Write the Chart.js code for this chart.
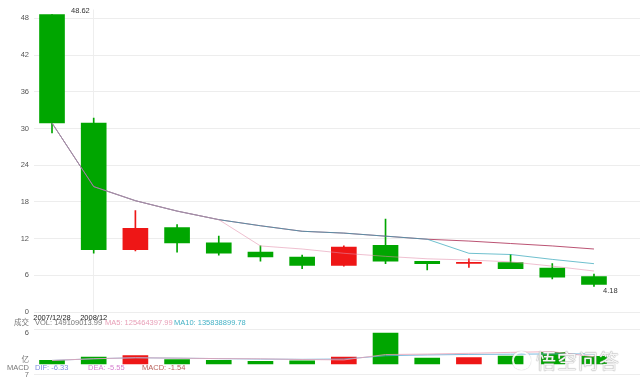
<!DOCTYPE html>
<html>
<head>
<meta charset="utf-8">
<script src="https://cdn.jsdelivr.net/npm/chart.js@4.4.0/dist/chart.umd.min.js"></script>
<style>
  body { margin: 0; background: #fff; width: 640px; height: 387px; overflow: hidden; position: relative;
         font-family: "Liberation Sans", "Noto Sans CJK SC", sans-serif; }
  #main { position: absolute; left: 0; top: 0; width: 640px; height: 322px; }
  #vol { position: absolute; left: 0; top: 320px; width: 640px; height: 67px; }
  .lbl { position: absolute; font-size: 7.5px; line-height: 8px; white-space: nowrap; z-index: 2; }
  .r { text-align: right; width: 40px; }
  .wm { position: absolute; left: 512px; top: 349px; z-index: 3; font-family: "Noto Sans CJK SC", sans-serif;
        font-size: 20px; line-height: 24px; color: rgba(255,255,255,0.9); letter-spacing: 1px;
        text-shadow: 0 0 1px #999, 0 0 1px #999; }
  .wm span { display: inline-block; width: 15px; height: 15px; border-radius: 50%; border: 2px solid rgba(255,255,255,0.9);
             box-shadow: 0 0 1px #999; vertical-align: -1px; margin-right: 5px; }
</style>
</head>
<body>
<canvas id="main" width="640" height="322"></canvas>
<canvas id="vol" width="640" height="67"></canvas>

<div class="lbl r" style="left:-11px; top:319px; color:#777;">成交</div>
<div class="lbl" style="left:35px; top:319px; color:#777;">VOL: 149109013.99</div>
<div class="lbl" style="left:105px; top:319px; color:#e8a0b8;">MA5: 125464397.99</div>
<div class="lbl" style="left:174px; top:319px; color:#45b2c6;">MA10: 135838899.78</div>
<div class="lbl r" style="left:-11px; top:356px; color:#777;">亿</div>
<div class="lbl r" style="left:-11px; top:364px; color:#777;">MACD</div>
<div class="lbl" style="left:35px; top:364px; color:#7d8de0;">DIF: -6.33</div>
<div class="lbl" style="left:88px; top:364px; color:#d67fd0;">DEA: -5.55</div>
<div class="lbl" style="left:142px; top:364px; color:#b8605a;">MACD: -1.54</div>
<div class="lbl r" style="left:-11px; top:371px; color:#777;">7</div>
<div class="wm"><span></span>悟空问答</div>

<script>
// yearly candles, 2007 - 2020
const years = ['2007/12/28', '2008/12', '2009/12', '2010/12', '2011/12', '2012/12', '2013/12',
               '2014/12', '2015/12', '2016/12', '2017/12', '2018/12', '2019/12', '2020/12'];
const openP  = [48.62, 30.9, 10.2, 13.8, 11.3, 9.8, 9.0, 7.6, 10.9, 8.3, 7.95, 8.1, 7.2, 5.8];
const closeP = [30.9, 10.2, 13.7, 11.3, 9.6, 9.0, 7.6, 10.6, 8.3, 7.9, 8.05, 7.1, 5.7, 4.5];
const highP  = [48.62, 31.7, 16.6, 14.3, 12.4, 10.8, 9.3, 10.8, 15.2, 8.3, 8.7, 9.4, 7.9, 6.2];
const lowP   = [29.3, 9.6, 10.0, 9.8, 9.3, 8.3, 7.1, 7.5, 7.9, 6.9, 7.3, 7.1, 5.4, 4.18];

const ma5  = [30.9, 20.5, 18.2, 16.5, 15.1, 10.8, 10.3, 9.6, 9.1, 8.7, 8.5, 8.2, 7.5, 6.7];
const ma10 = [30.9, 20.5, 18.2, 16.5, 15.1, 14.1, 13.2, 12.9, 12.4, 11.9, 9.6, 9.4, 8.6, 7.9];
const ma20 = [30.9, 20.5, 18.2, 16.5, 15.1, 14.1, 13.2, 12.9, 12.4, 11.9, 11.6, 11.2, 10.8, 10.3];

// volume in 亿
const vol     = [0.67, 1.33, 1.62, 0.86, 0.67, 0.48, 0.6, 1.33, 6.05, 1.14, 1.24, 1.52, 2.29, 1.49];
const volMa5  = [0.67, 1.0, 1.2, 1.12, 1.03, 0.99, 0.85, 0.77, 1.83, 1.92, 2.07, 2.26, 2.4, 1.4];
const volMa10 = [0.67, 1.0, 1.2, 1.12, 1.03, 0.94, 0.89, 0.95, 1.6, 1.75, 1.85, 1.9, 1.95, 1.95];

const upColor = 'rgb(238,22,22)';
const downColor = 'rgb(0,166,0)';
const candleColors = closeP.map((c, i) => c >= openP[i] ? upColor : downColor);

const xMin = -0.432, xMax = 14.104;
const font = { family: '"Liberation Sans", sans-serif', size: 7.5 };
const pts = arr => arr.map((v, i) => ({ x: i, y: v }));

function maLine(label, arr, color, order) {
    return { type: 'line', label: label, data: pts(arr), borderColor: color, borderWidth: 1,
             pointRadius: 0, tension: 0, order: order };
}

// 48.62 / 4.18 marks next to the extreme candles
const extremeLabels = {
    id: 'extremeLabels',
    afterDatasetsDraw(chart) {
        const { ctx, scales: { x, y } } = chart;
        ctx.save();
        ctx.font = '7.5px "Liberation Sans", sans-serif';
        ctx.fillStyle = '#333';
        ctx.textBaseline = 'middle';
        ctx.textAlign = 'left';
        const hi = Math.max(...highP), hiIdx = highP.indexOf(hi);
        ctx.fillText(hi.toFixed(2), x.getPixelForValue(hiIdx) + 19, y.getPixelForValue(hi) - 4);
        const lo = Math.min(...lowP), loIdx = lowP.indexOf(lo);
        ctx.fillText(lo.toFixed(2), x.getPixelForValue(loIdx) + 9, y.getPixelForValue(lo) + 5);
        ctx.restore();
    }
};

new Chart(document.getElementById('main'), {
    type: 'bar',
    data: {
        // first dataset ends up on top
        datasets: [
            maLine('MA5', ma5, 'rgba(225,140,170,0.55)', 0),
            maLine('MA10', ma10, 'rgba(50,165,185,0.7)', 0),
            maLine('MA20', ma20, 'rgba(170,40,80,0.8)', 0),
            {
                label: 'body',
                data: openP.map((o, i) => ({ x: i, y: [o, closeP[i]] })),
                backgroundColor: candleColors,
                barThickness: 25,
                minBarLength: 1,
                grouped: false,
                order: 1
            },
            {
                label: 'wick',
                data: highP.map((h, i) => ({ x: i, y: [lowP[i], h] })),
                backgroundColor: candleColors,
                barThickness: 1,
                grouped: false,
                order: 2
            }
        ]
    },
    options: {
        responsive: false,
        animation: false,
        layout: { padding: { top: 8, left: 0, right: 0, bottom: 0 } },
        plugins: { legend: { display: false }, tooltip: { enabled: false } },
        scales: {
            x: {
                type: 'linear', min: xMin, max: xMax, offset: false,
                afterFit(s) { s.height = 10; },
                border: { display: false },
                grid: { offset: false, drawTicks: false,
                        color: ctx => ctx.tick && ctx.tick.value === 1 ? '#eeeeee' : 'rgba(0,0,0,0)' },
                ticks: { stepSize: 1, includeBounds: false, autoSkip: false, maxRotation: 0, padding: 1,
                         color: '#222', font: font,
                         callback: v => (v === 0 || v === 1) ? years[v] : '' }
            },
            y: {
                min: 0, max: 49.46,
                afterFit(s) { s.width = 34; },
                border: { display: false },
                grid: { drawTicks: false, color: '#ededed' },
                ticks: { stepSize: 6, includeBounds: false, padding: 5, color: '#555', font: font }
            }
        }
    },
    plugins: [extremeLabels]
});

new Chart(document.getElementById('vol'), {
    type: 'bar',
    data: {
        datasets: [
            maLine('MA5', volMa5, 'rgba(235,160,180,0.8)', 0),
            maLine('MA10', volMa10, 'rgba(90,170,215,0.8)', 0),
            {
                label: 'VOL',
                data: pts(vol),
                backgroundColor: candleColors,
                barThickness: 25,
                order: 1
            }
        ]
    },
    options: {
        responsive: false,
        animation: false,
        layout: { padding: { top: 8, left: 0, right: 0, bottom: 13 } },
        plugins: { legend: { display: false }, tooltip: { enabled: false } },
        scales: {
            x: { type: 'linear', min: xMin, max: xMax, offset: false, display: false },
            y: {
                min: -2.0, max: 6.76,
                afterFit(s) { s.width = 34; },
                afterBuildTicks(s) { s.ticks = [{ value: -2.0 }, { value: 6 }, { value: 6.76 }]; },
                border: { display: false },
                grid: { drawTicks: false, color: ctx => ctx.tick && ctx.tick.value === 6 ? 'rgba(0,0,0,0)' : '#ededed' },
                ticks: { padding: 5, color: '#555', font: font, callback: v => v === 6 ? '6' : '' }
            }
        }
    }
});
</script>
</body>
</html>
